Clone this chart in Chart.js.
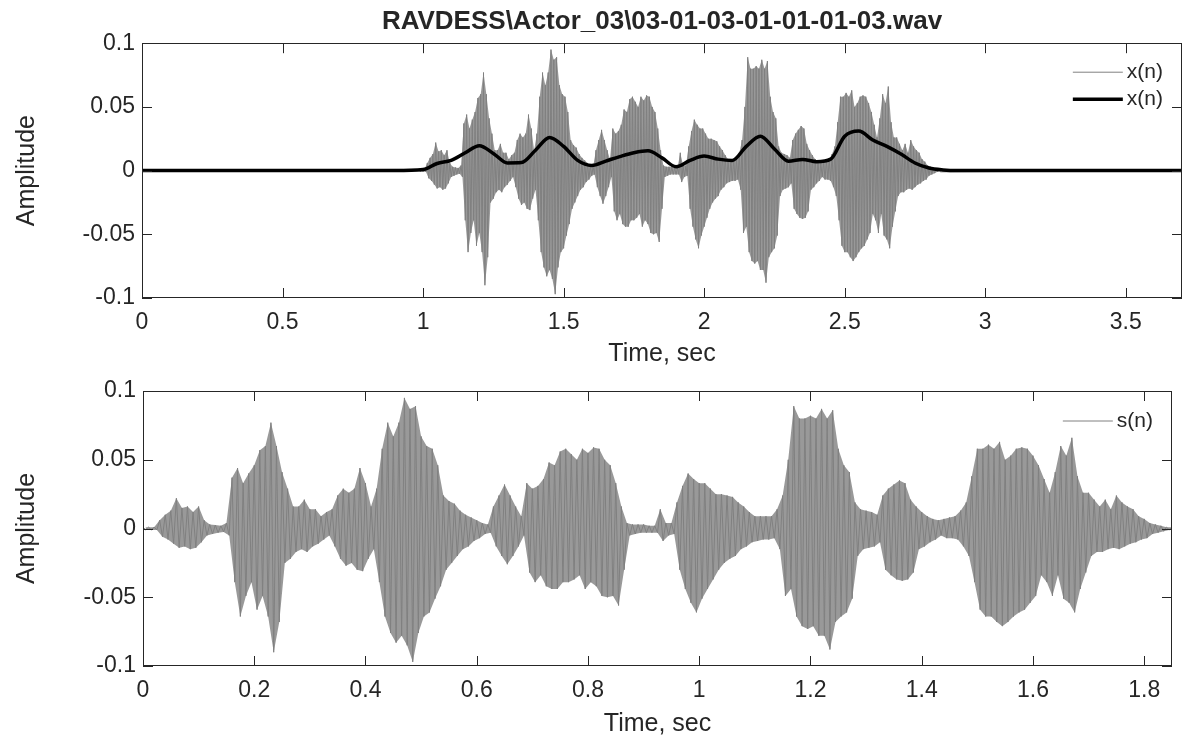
<!DOCTYPE html>
<html>
<head>
<meta charset="utf-8">
<title>RAVDESS waveform</title>
<script src="https://cdn.jsdelivr.net/npm/chart.js@4.4.0/dist/chart.umd.min.js"></script>
<style>
  html, body { margin: 0; padding: 0; background: #fff; }
  #wrap { position: relative; width: 1184px; height: 740px; overflow: hidden; }
  .box { position: absolute; left: 0; width: 1184px; height: 370px; }
  #topBox { top: 0; }
  #botBox { top: 370px; }
</style>
</head>
<body>
<div id="wrap">
  <div class="box" id="topBox"><canvas id="topChart" width="1184" height="370"></canvas></div>
  <div class="box" id="botBox"><canvas id="botChart" width="1184" height="370"></canvas></div>
</div>
<script>
// Textos e eixos
const topTitle = 'RAVDESS\\Actor_03\\03-01-03-01-01-01-03.wav';
const xLabel = 'Time, sec';
const yLabel = 'Amplitude';
const topXTicks = [0, 0.5, 1, 1.5, 2, 2.5, 3, 3.5];
const topXTickLabels = ['0', '0.5', '1', '1.5', '2', '2.5', '3', '3.5'];
const botXTicks = [0, 0.2, 0.4, 0.6, 0.8, 1, 1.2, 1.4, 1.6, 1.8];
const botXTickLabels = ['0', '0.2', '0.4', '0.6', '0.8', '1', '1.2', '1.4', '1.6', '1.8'];
const yTicks = [-0.1, -0.05, 0, 0.05, 0.1];
const yTickLabels = ['-0.1', '-0.05', '0', '0.05', '0.1'];
const topXMax = 3.7;
const botXMax = 1.85;

const sampleStep = 0.01;
const segmentStart = 0.985; // onde s(n) começa dentro de x(n), em segundos
const sUpper = [
  0.001, 0.001, 0.001, 0.006, 0.010, 0.013, 0.022, 0.015, 0.016, 0.012,
  0.016, 0.006, 0.003, 0.0025, 0.002, 0.004, 0.037, 0.044, 0.033, 0.040,
  0.046, 0.057, 0.060, 0.077, 0.060, 0.041, 0.029, 0.016, 0.016, 0.021,
  0.014, 0.014, 0.009, 0.012, 0.014, 0.024, 0.029, 0.026, 0.029, 0.044,
  0.033, 0.016, 0.029, 0.058, 0.077, 0.067, 0.077, 0.095, 0.087, 0.089,
  0.067, 0.060, 0.058, 0.046, 0.024, 0.020, 0.018, 0.013, 0.010, 0.008,
  0.006, 0.004, 0.003, 0.016, 0.024, 0.032, 0.024, 0.016, 0.009, 0.033,
  0.029, 0.031, 0.036, 0.048, 0.046, 0.056, 0.058, 0.054, 0.050, 0.058,
  0.055, 0.059, 0.058, 0.050, 0.046, 0.033, 0.016, 0.004, 0.003, 0.003,
  0.003, 0.002, 0.002, 0.014, 0.004, 0.004, 0.019, 0.031, 0.040, 0.036,
  0.033, 0.033, 0.029, 0.025, 0.025, 0.024, 0.023, 0.019, 0.016, 0.012,
  0.009, 0.009, 0.009, 0.009, 0.014, 0.024, 0.050, 0.089, 0.080, 0.080,
  0.082, 0.080, 0.087, 0.080, 0.086, 0.058, 0.046, 0.041, 0.019, 0.014,
  0.013, 0.012, 0.010, 0.024, 0.029, 0.032, 0.035, 0.033, 0.021, 0.016,
  0.012, 0.009, 0.007, 0.006, 0.007, 0.008, 0.009, 0.013, 0.019, 0.038,
  0.058, 0.058, 0.061, 0.058, 0.063, 0.050, 0.053, 0.058, 0.059, 0.058,
  0.053, 0.046, 0.036, 0.026, 0.041, 0.060, 0.053, 0.066, 0.038, 0.026,
  0.026, 0.021, 0.016, 0.021, 0.014, 0.024, 0.019, 0.016, 0.014, 0.009,
  0.007, 0.004, 0.003, 0.002, 0.001, 0.001
];
const sLower = [
  -0.001, -0.001, -0.001, -0.006, -0.008, -0.011, -0.014, -0.013, -0.015, -0.014,
  -0.010, -0.005, -0.004, -0.003, -0.0025, -0.005, -0.039, -0.064, -0.049, -0.039,
  -0.059, -0.049, -0.064, -0.090, -0.068, -0.025, -0.022, -0.017, -0.015, -0.017,
  -0.013, -0.011, -0.008, -0.005, -0.013, -0.022, -0.027, -0.025, -0.030, -0.031,
  -0.022, -0.015, -0.039, -0.064, -0.076, -0.083, -0.078, -0.085, -0.097, -0.076,
  -0.064, -0.061, -0.051, -0.042, -0.030, -0.025, -0.020, -0.015, -0.013, -0.009,
  -0.007, -0.004, -0.003, -0.013, -0.020, -0.026, -0.020, -0.013, -0.005, -0.032,
  -0.039, -0.034, -0.042, -0.044, -0.044, -0.039, -0.039, -0.037, -0.034, -0.044,
  -0.039, -0.042, -0.049, -0.050, -0.049, -0.056, -0.030, -0.005, -0.004, -0.003,
  -0.003, -0.003, -0.003, -0.009, -0.005, -0.004, -0.030, -0.044, -0.054, -0.061,
  -0.051, -0.044, -0.037, -0.030, -0.025, -0.022, -0.020, -0.015, -0.013, -0.010,
  -0.009, -0.008, -0.008, -0.007, -0.015, -0.049, -0.044, -0.064, -0.071, -0.073,
  -0.071, -0.078, -0.078, -0.088, -0.068, -0.064, -0.061, -0.051, -0.020, -0.015,
  -0.014, -0.013, -0.010, -0.030, -0.034, -0.037, -0.038, -0.037, -0.032, -0.015,
  -0.013, -0.010, -0.008, -0.005, -0.007, -0.007, -0.008, -0.013, -0.020, -0.039,
  -0.059, -0.064, -0.064, -0.068, -0.071, -0.068, -0.064, -0.061, -0.059, -0.054,
  -0.049, -0.034, -0.039, -0.049, -0.034, -0.051, -0.054, -0.061, -0.044, -0.032,
  -0.020, -0.017, -0.017, -0.015, -0.014, -0.015, -0.013, -0.011, -0.010, -0.008,
  -0.007, -0.004, -0.003, -0.002, -0.001, -0.001
];

// Envoltória suavizada (linha preta) do gráfico de cima
const envTime = [0, 0.9, 1.0, 1.05, 1.1, 1.15, 1.2, 1.25, 1.3, 1.35, 1.4, 1.45, 1.5, 1.55, 1.6,
  1.65, 1.7, 1.75, 1.8, 1.85, 1.9, 1.95, 2.0, 2.05, 2.1, 2.15, 2.2, 2.25, 2.3, 2.35, 2.4,
  2.45, 2.5, 2.55, 2.6, 2.65, 2.7, 2.75, 2.8, 2.85, 2.9, 3.7];
const envValue = [0, 0, 0.0008, 0.0056, 0.008, 0.014, 0.0195, 0.0135, 0.006, 0.0063, 0.016, 0.026, 0.019, 0.008, 0.004,
  0.0075, 0.011, 0.014, 0.0155, 0.010, 0.003, 0.008, 0.0114, 0.009, 0.008, 0.019, 0.027, 0.017, 0.0074, 0.0088, 0.007,
  0.009, 0.027, 0.031, 0.024, 0.019, 0.013, 0.006, 0.002, 0.0005, 0, 0];

const gray = '#808080';
const ink = '#262626';
const fontFamily = '"Liberation Sans", Arial, sans-serif';

// Monta a forma de onda alternando máximo e mínimo de cada janela
function waveform(offset) {
  const pts = [];
  for (let i = 0; i < sUpper.length; i++) {
    const t = offset + i * sampleStep;
    pts.push({ x: t, y: sUpper[i] });
    pts.push({ x: t + sampleStep / 2, y: sLower[i] });
  }
  return pts;
}
function envelope(arr, offset, shift) {
  return arr.map((v, i) => ({ x: offset + i * sampleStep + shift, y: v }));
}

// Faixa cheia (máximo → mínimo) + traço em zigue-zague por cima
function waveDatasets(label, offset, padStart, padEnd) {
  let wave = waveform(offset);
  if (padStart) wave = [{ x: 0, y: 0 }].concat(wave);
  if (padEnd) wave = wave.concat([{ x: padEnd, y: 0 }]);
  return [
    { order: 2, data: envelope(sUpper, offset, 0), borderWidth: 0, borderColor: 'transparent',
      backgroundColor: 'rgba(128,128,128,0.8)', fill: '+1' },
    { order: 3, data: envelope(sLower, offset, sampleStep / 2), borderWidth: 0, borderColor: 'transparent', fill: false },
    { order: 1, label: label, inLegend: true, data: wave, borderColor: gray, borderWidth: 1, fill: false }
  ];
}

const envPoints = envTime.map((t, i) => ({ x: t, y: envValue[i] }));

// Moldura com marcas de escala para dentro (estilo MATLAB)
const frameTicks = {
  id: 'frameTicks',
  afterDatasetsDraw(chart) {
    const { ctx, chartArea: a, scales } = chart;
    const len = 10;
    ctx.save();
    ctx.strokeStyle = ink;
    ctx.lineWidth = 1;
    ctx.strokeRect(Math.round(a.left) + 0.5, Math.round(a.top) + 0.5,
      Math.round(a.right - a.left) - 1, Math.round(a.bottom - a.top) - 1);
    ctx.beginPath();
    scales.x.ticks.forEach(t => {
      const px = Math.round(scales.x.getPixelForValue(t.value)) + 0.5;
      ctx.moveTo(px, a.bottom); ctx.lineTo(px, a.bottom - len);
      ctx.moveTo(px, a.top); ctx.lineTo(px, a.top + len);
    });
    scales.y.ticks.forEach(t => {
      const py = Math.round(scales.y.getPixelForValue(t.value)) + 0.5;
      ctx.moveTo(a.left, py); ctx.lineTo(a.left + len, py);
      ctx.moveTo(a.right, py); ctx.lineTo(a.right - len, py);
    });
    ctx.stroke();
    ctx.restore();
  }
};

// Legenda dentro da área do gráfico, canto superior direito
const insideLegend = {
  id: 'insideLegend',
  afterDraw(chart, args, opts) {
    const { ctx, chartArea: a } = chart;
    const items = chart.data.datasets.filter(d => d.inLegend);
    ctx.save();
    ctx.font = '21px ' + fontFamily;
    ctx.textBaseline = 'middle';
    const tw = Math.max(...items.map(d => ctx.measureText(d.label).width));
    const textX = a.right - opts.right - tw;
    items.forEach((ds, i) => {
      const y = a.top + opts.top + i * opts.rowGap;
      ctx.strokeStyle = ds.borderColor;
      ctx.lineWidth = ds.borderWidth;
      ctx.beginPath();
      ctx.moveTo(textX - 4 - opts.lineLen, y);
      ctx.lineTo(textX - 4, y);
      ctx.stroke();
      ctx.fillStyle = ink;
      ctx.fillText(ds.label, textX, y);
    });
    ctx.restore();
  }
};

function makeOptions(xMax, xTicks, xTickLabels, axisHeight, yWidth, padding, titleText, legendTop) {
  return {
    responsive: false,
    animation: false,
    devicePixelRatio: 1,
    parsing: false,
    layout: { padding: padding },
    elements: { point: { radius: 0 }, line: { tension: 0 } },
    plugins: {
      legend: { display: false },
      tooltip: { enabled: false },
      title: {
        display: !!titleText,
        text: titleText,
        fullSize: false,
        color: ink,
        font: { family: fontFamily, size: 26, weight: 'bold' },
        padding: { top: 6, bottom: 6 }
      },
      insideLegend: { top: legendTop, rowGap: 27, right: 19, lineLen: 50 }
    },
    scales: {
      x: {
        type: 'linear',
        min: 0,
        max: xMax,
        grid: { display: false, drawTicks: false },
        border: { display: false },
        afterBuildTicks: s => { s.ticks = xTicks.map(v => ({ value: v })); },
        afterFit: s => { s.height = axisHeight; },
        ticks: {
          color: ink,
          padding: 11,
          maxRotation: 0,
          font: { family: fontFamily, size: 23 },
          callback: (v, i) => xTickLabels[i]
        },
        title: {
          display: true,
          text: xLabel,
          color: ink,
          font: { family: fontFamily, size: 25 },
          padding: { top: 0, bottom: 1 }
        }
      },
      y: {
        type: 'linear',
        min: -0.1,
        max: 0.1,
        grid: { display: false, drawTicks: false },
        border: { display: false },
        afterBuildTicks: s => { s.ticks = yTicks.map(v => ({ value: v })); },
        afterFit: s => { s.width = yWidth; },
        ticks: {
          color: ink,
          padding: 7,
          font: { family: fontFamily, size: 23 },
          callback: (v, i) => yTickLabels[i]
        },
        title: {
          display: true,
          text: yLabel,
          color: ink,
          font: { family: fontFamily, size: 25 },
          padding: { top: 12, bottom: 0 }
        }
      }
    }
  };
}

new Chart(document.getElementById('topChart').getContext('2d'), {
  type: 'line',
  data: {
    datasets: waveDatasets('x(n)', segmentStart, true, topXMax).concat([
      {
        order: 0,
        label: 'x(n)',
        inLegend: true,
        data: envPoints,
        borderColor: '#000000',
        borderWidth: 3.5,
        cubicInterpolationMode: 'monotone',
        fill: false
      }
    ])
  },
  options: makeOptions(topXMax, topXTicks, topXTickLabels, 72, 142,
    { left: 0, right: 2, top: 0, bottom: 0 }, topTitle, 29),
  plugins: [frameTicks, insideLegend]
});

new Chart(document.getElementById('botChart').getContext('2d'), {
  type: 'line',
  data: {
    datasets: waveDatasets('s(n)', 0, false, 0)
  },
  options: makeOptions(botXMax, botXTicks, botXTickLabels, 74, 143,
    { left: 0, right: 12, top: 21, bottom: 0 }, '', 30),
  plugins: [frameTicks, insideLegend]
});
</script>
</body>
</html>
